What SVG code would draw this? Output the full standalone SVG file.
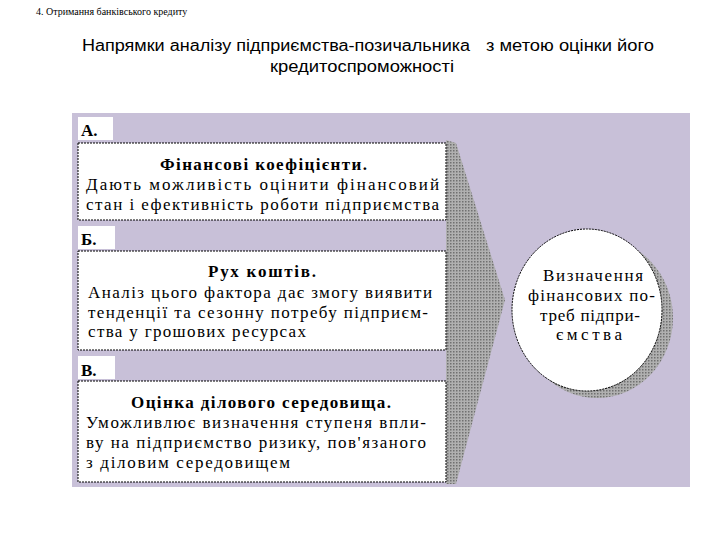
<svg xmlns="http://www.w3.org/2000/svg" width="720" height="540" viewBox="0 0 720 540">
<style>
text{font-family:"Liberation Serif","Times New Roman",serif;fill:#000}
.s{font-size:17px}
.b{font-weight:bold}
.box{fill:#fff;stroke:#000;stroke-width:1;stroke-dasharray:2,1}
.lab{fill:#fff}
.t{font-family:"Liberation Sans",Arial,sans-serif;font-size:16px}
</style>
<defs><pattern id="g" width="3" height="3" patternUnits="userSpaceOnUse"><rect width="3" height="3" fill="#b0b0b0"/><rect width="1.5" height="1.5" fill="#707070"/></pattern></defs>
<rect width="720" height="540" fill="#fff"/>
<text x="36" y="15" font-size="10">4. Отримання банківського кредиту</text>
<text class="t" x="82" y="51" textLength="388" lengthAdjust="spacingAndGlyphs">Напрямки аналізу підприємства-позичальника</text>
<text class="t" x="486" y="51" textLength="168" lengthAdjust="spacingAndGlyphs">з метою оцінки його</text>
<text class="t" x="270" y="72" textLength="184" lengthAdjust="spacingAndGlyphs">кредитоспроможності</text>
<rect x="72" y="113" width="618" height="374" fill="#c8c0d8"/>
<g id="connectors"><polygon points="446,140 456,143 505,300 456,484 446,484" fill="url(#g)"/></g>
<g id="A"><rect class="lab" x="78" y="117" width="35" height="23"/><text class="s b" x="81" y="136" font-size="18">А.</text>
<rect class="box" x="78" y="143" width="368" height="77"/>
<text class="s b" x="160" y="170" textLength="207" lengthAdjust="spacing">Фінансові коефіцієнти.</text>
<text class="s" x="86" y="190" textLength="353" lengthAdjust="spacing">Дають  можливість  оцінити  фінансовий</text>
<text class="s" x="86" y="210" textLength="353" lengthAdjust="spacing">стан і ефективність роботи підприємства</text></g>
<g id="B"><rect class="lab" x="78" y="226" width="37" height="23"/><text class="s b" x="81" y="245" font-size="18">Б.</text>
<rect class="box" x="78" y="251" width="368" height="99"/>
<text class="s b" x="208" y="277" textLength="108" lengthAdjust="spacing">Рух коштів.</text>
<text class="s" x="88" y="298" textLength="344" lengthAdjust="spacing">Аналіз цього фактора дає змогу виявити</text>
<text class="s" x="88" y="318" textLength="340" lengthAdjust="spacing">тенденції та сезонну потребу підприєм-</text>
<text class="s" x="88" y="337" textLength="218" lengthAdjust="spacing">ства у грошових ресурсах</text></g>
<g id="C"><rect class="lab" x="78" y="356" width="37" height="23"/><text class="s b" x="81" y="376" font-size="18">В.</text>
<rect class="box" x="78" y="381" width="368" height="101"/>
<text class="s b" x="131" y="408" textLength="260" lengthAdjust="spacing">Оцінка ділового середовища.</text>
<text class="s" x="86" y="428" textLength="340" lengthAdjust="spacing">Уможливлює визначення ступеня впли-</text>
<text class="s" x="86" y="448" textLength="340" lengthAdjust="spacing">ву на підприємство ризику, пов'язаного</text>
<text class="s" x="86" y="468" textLength="204" lengthAdjust="spacing">з діловим середовищем</text></g>
<g id="D"><ellipse cx="597" cy="318" rx="76" ry="80" fill="url(#g)"/><ellipse class="box" cx="587" cy="310" rx="75" ry="81"/>
<text class="s" x="543" y="281" textLength="100" lengthAdjust="spacing">Визначення</text>
<text class="s" x="528" y="301" textLength="127" lengthAdjust="spacing">фінансових по-</text>
<text class="s" x="540" y="321" textLength="100" lengthAdjust="spacing">треб підпри-</text>
<text class="s" x="556" y="340" textLength="66" lengthAdjust="spacing">ємства</text></g>
</svg>
